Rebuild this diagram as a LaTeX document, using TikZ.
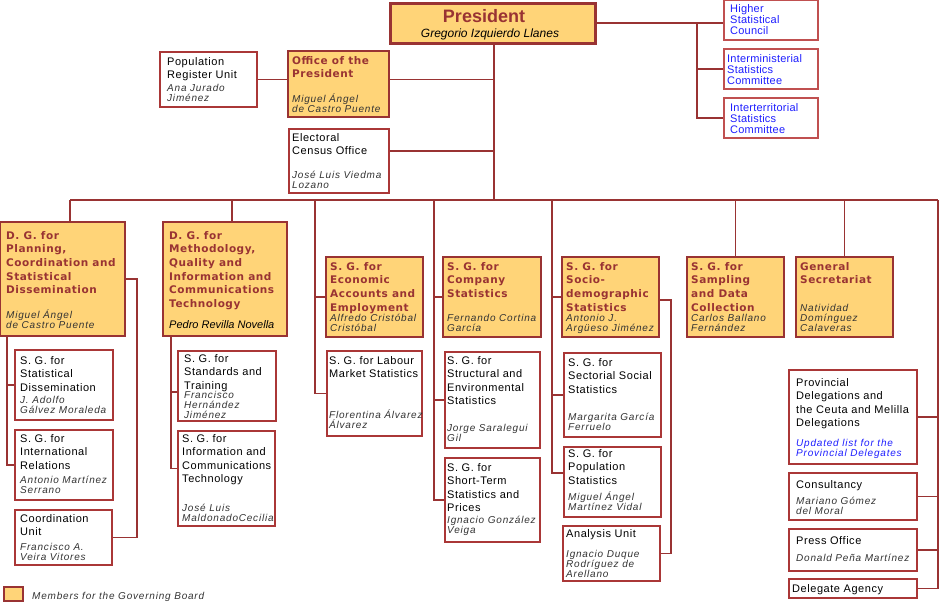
\documentclass[tikz,border=0pt]{standalone}
\usepackage{fontspec}
\setmainfont{Liberation Sans}
\newfontfamily\regf[LetterSpace=5]{Liberation Sans}
\newfontfamily\blf[LetterSpace=2]{Liberation Sans}
\newfontfamily\titf[LetterSpace=5]{DejaVu Sans}
\newfontfamily\namef[LetterSpace=8]{Liberation Sans}
\usetikzlibrary{backgrounds}
\definecolor{ored}{RGB}{153,51,51}
\definecolor{ofill}{RGB}{255,212,120}
\definecolor{oline}{RGB}{170,55,55}
\definecolor{olineb}{RGB}{192,80,80}
\definecolor{oblue}{RGB}{30,30,255}
\definecolor{ogray}{RGB}{51,51,51}
\tikzset{
 filledbox/.style={draw=ored, line width=2.6pt, fill=ofill, anchor=north west, inner sep=0pt, outer sep=0pt},
 plainbox/.style={draw=oline, line width=1.3pt, fill=white, anchor=north west, inner sep=0pt, outer sep=0pt},
 ftitle/.style={anchor=north west, inner sep=0pt, align=left, text=ored, font=\titf\bfseries\fontsize{10.5}{13.6}\selectfont},
 ptitle/.style={anchor=north west, inner sep=0pt, align=left, text=black, font=\regf\fontsize{11}{13.5}\selectfont},
 pname/.style={anchor=south west, inner sep=0pt, align=left, text=ogray, font=\namef\itshape\fontsize{10}{10}\selectfont},
 btext/.style={anchor=north west, inner sep=0pt, align=left, text=oblue, font=\blf\fontsize{11}{11}\selectfont},
 conn/.style={draw=ored, line width=1.3pt},
}
\newcommand\px{5}
\newcommand\OrgF[9]{%
  \node[filledbox, minimum width=#4pt, minimum height=#5pt] (#1) at (#2,#3) {};
  \node[ftitle] (#1-t) at ([shift={(\px pt,{(8.3-#8)*1pt})}]#1.north west) {\rule{0pt}{8.3pt}#6};
  \node[pname] (#1-n) at ([shift={(\px pt,{(#9-2.2)*1pt})}]#1.south west) {#7\rule[-2.2pt]{0pt}{0pt}};}
\newcommand\OrgP[9]{%
  \node[plainbox, minimum width=#4pt, minimum height=#5pt] (#1) at (#2,#3) {};
  \node[ptitle] (#1-t) at ([shift={(\px pt,{(8.5-#8)*1pt})}]#1.north west) {\rule{0pt}{8.5pt}#6};
  \node[pname] (#1-n) at ([shift={(\px pt,{(#9-2.2)*1pt})}]#1.south west) {#7\rule[-2.2pt]{0pt}{0pt}};}
\begin{document}
\begin{tikzpicture}[x=1pt,y=-1pt]
\useasboundingbox (0,0) rectangle (939,605);
% President
\node[filledbox, line width=3pt, minimum width=205pt, minimum height=40pt] (pres) at (390,3) {};
\node[anchor=base, inner sep=0pt, text=ored, font=\bfseries\fontsize{18}{20}\selectfont] (pres-t) at (484,23) {President};
\node[anchor=base, inner sep=0pt, text=black, font=\itshape\fontsize{12}{14}\selectfont] (pres-n) at (490,37) {Gregorio Izquierdo Llanes};
% blue boxes
\node[plainbox, draw=olineb, minimum width=94pt, minimum height=40pt] (hsc) at (724,0) {};
\node[btext] (hsc-t) at ([shift={(6pt,-4pt)}]hsc.north west) {\rule{0pt}{8pt}Higher\\Statistical\\Council};
\node[plainbox, draw=olineb, minimum width=94pt, minimum height=40pt] (ims) at (724,49) {};
\node[btext] (ims-t) at ([shift={(3pt,-5pt)}]ims.north west) {\rule{0pt}{8pt}Interministerial\\Statistics\\Committee};
\node[plainbox, draw=olineb, minimum width=94pt, minimum height=40pt] (its) at (724,98) {};
\node[btext] (its-t) at ([shift={(6pt,-5pt)}]its.north west) {\rule{0pt}{8pt}Interterritorial\\Statistics\\Committee};
% filled boxes
\renewcommand\px{4}
\OrgF{office}{288}{51}{101}{66}{Office of the\\President}{Miguel Ángel\\de Castro Puente}{13}{4}
\renewcommand\px{6}
\OrgF{dgp}{0}{222}{125}{114}{D. G. for\\Planning,\\Coordination and\\Statistical\\Dissemination}{Miguel Ángel\\de Castro Puente}{17}{7}
\OrgF{dgm}{163}{222}{124}{114}{D. G. for\\Methodology,\\Quality and\\Information and\\Communications\\Technology}{\rmfamily\itshape\fontsize{11}{12}\selectfont\color{black}Pedro Revilla Novella}{17}{7}
\renewcommand\px{4}
\OrgF{econ}{326}{257}{97}{80}{S. G. for\\Economic\\Accounts and\\Employment}{Alfredo Cristóbal\\Cristóbal}{13}{5}
\OrgF{comp}{443}{257}{98}{80}{S. G. for\\Company\\Statistics}{Fernando Cortina\\García}{13}{5}
\OrgF{socio}{562}{257}{97}{80}{S. G. for\\Socio-\\demographic\\Statistics}{Antonio J.\\Argüeso Jiménez}{13}{5}
\OrgF{samp}{687}{257}{97}{80}{S. G. for\\Sampling\\and Data\\Collection}{Carlos Ballano\\Fernández}{13}{5}
\OrgF{gensec}{796}{257}{97}{80}{General\\Secretariat}{Natividad\\Domínguez\\Calaveras}{13}{5}
% plain boxes
\renewcommand\px{7}
\OrgP{popreg}{160}{52}{97}{55}{Population\\Register Unit}{Ana Jurado\\Jiménez}{13}{5}
\renewcommand\px{3}
\OrgP{elect}{289}{129}{100}{64}{Electoral\\Census Office}{José Luis Viedma\\Lozano}{12}{4}
\renewcommand\px{5}
\OrgP{statdiss}{15}{350}{98}{70}{S. G. for\\Statistical\\Dissemination}{J. Adolfo\\Gálvez Moraleda}{14}{6}
\OrgP{intrel}{15}{430}{98}{70}{S. G. for\\International\\Relations}{Antonio Martínez\\Serrano}{12}{6}
\OrgP{coord}{15}{510}{97}{55}{Coordination\\Unit}{Francisco A.\\Veira Vitores}{12}{4}
\renewcommand\px{6}
\OrgP{stand}{178}{351}{98}{70}{S. G. for\\Standards and\\Training}{Francisco\\Hernández\\Jiménez}{11}{2}
\renewcommand\px{4}
\OrgP{ict}{178}{431}{97}{95}{S. G. for\\Information and\\Communications\\Technology}{José Luis\\MaldonadoCecilia}{11}{4}
\renewcommand\px{2}
\OrgP{labour}{327}{351}{95}{85}{S. G. for Labour\\Market Statistics}{Florentina Álvarez\\Álvarez}{13}{7}
\OrgP{struct}{445}{352}{95}{96}{S. G. for\\Structural and\\Environmental\\Statistics}{Jorge Saralegui\\Gil}{12}{6}
\OrgP{short}{445}{458}{95}{84}{S. G. for\\Short-Term\\Statistics and\\Prices}{Ignacio González\\Veiga}{13}{8}
\renewcommand\px{4}
\OrgP{sect}{564}{353}{97}{84}{S. G. for\\Sectorial Social\\Statistics}{Margarita García\\Ferruelo}{13}{6}
\OrgP{popstat}{564}{447}{97}{70}{S. G. for\\Population\\Statistics}{Miguel Ángel\\Martínez Vidal}{10}{6}
\renewcommand\px{3}
\OrgP{anal}{563}{526}{97}{55}{Analysis Unit}{Ignacio Duque\\Rodríguez de\\Arellano}{11}{3}
\renewcommand\px{7}
\OrgP{prov}{789}{370}{128}{94}{Provincial\\Delegations and\\the Ceuta and Melilla\\Delegations}{\color{oblue}Updated list for the\\\color{oblue}Provincial Delegates}{16}{7}
\OrgP{consult}{789}{473}{128}{47}{Consultancy}{Mariano Gómez\\del Moral}{15}{5}
\OrgP{press}{789}{529}{128}{42}{Press Office}{Donald Peña Martínez}{15}{9}
\node[plainbox, minimum width=128pt, minimum height=19pt] (deleg) at (789,579) {};
\node[ptitle, anchor=base west] (deleg-t) at ([shift={(3pt,-13pt)}]deleg.north west) {Delegate Agency};
% legend
\node[filledbox, line width=2pt, minimum width=19pt, minimum height=14pt] (leg) at (4,587) {};
\node[pname, anchor=base west] (leg-t) at (32,599) {Members for the Governing Board};
% connectors
\begin{pgfonlayer}{background}
\draw[conn] (pres.east) -- (pres.east -| hsc.west);
\coordinate (jr) at (697,23);
\draw[conn] (jr) |- (ims.west);
\draw[conn] (jr) |- (its.west);
\coordinate (sp) at (494,200);
\draw[conn] (pres.south -| sp) -- (sp);
\draw[conn] (popreg.east) -- (popreg.east -| sp);
\draw[conn] ([yshift=10pt]elect.east) -- ([yshift=10pt]elect.east -| sp);
\coordinate (busL) at (70,200);
\coordinate (busR) at (938,200);
\draw[conn] (busL) -- (busR);
\draw[conn] (busL) -- (busL |- dgp.north);
\coordinate (bm) at (232,200);
\draw[conn] (bm) -- (bm |- dgm.north);
\coordinate (be) at (315,200);
\draw[conn] (be) |- (labour.west);
\draw[conn] (be |- econ.west) -- (econ.west);
\coordinate (bc) at (434,200);
\draw[conn] (bc) |- (short.west);
\draw[conn] (bc |- comp.west) -- (comp.west);
\draw[conn] (bc |- struct.west) -- (struct.west);
\coordinate (bs) at (552,200);
\coordinate (pst) at ([yshift=9pt]popstat.west);
\draw[conn] (bs) |- (pst);
\draw[conn] (bs |- socio.west) -- (socio.west);
\draw[conn] (bs |- sect.west) -- (sect.west);
\draw[conn] ([yshift=-3pt]socio.east) -- ++(12pt,0) |- (anal.east);
\draw[conn] (samp.north |- busR) -- (samp.north);
\draw[conn] (gensec.north |- busR) -- (gensec.north);
\draw[conn] (busR) |- (deleg.east);
\draw[conn] (busR |- prov.east) -- (prov.east);
\draw[conn] (busR |- consult.east) -- (consult.east);
\draw[conn] (busR |- press.east) -- (press.east);
\draw[conn] (dgp.east) -- ++(12pt,0) |- (coord.east);
\coordinate (lp) at ([xshift=7pt]dgp.south west);
\draw[conn] (lp) |- (intrel.west);
\draw[conn] (lp |- statdiss.west) -- (statdiss.west);
\coordinate (lm) at ([xshift=8pt]dgm.south west);
\coordinate (ictw) at ([yshift=10pt]ict.west);
\coordinate (stw) at ([yshift=-6pt]stand.west);
\draw[conn] (lm) |- (ictw);
\draw[conn] (lm |- stw) -- (stw);
\end{pgfonlayer}
\end{tikzpicture}
\end{document}
